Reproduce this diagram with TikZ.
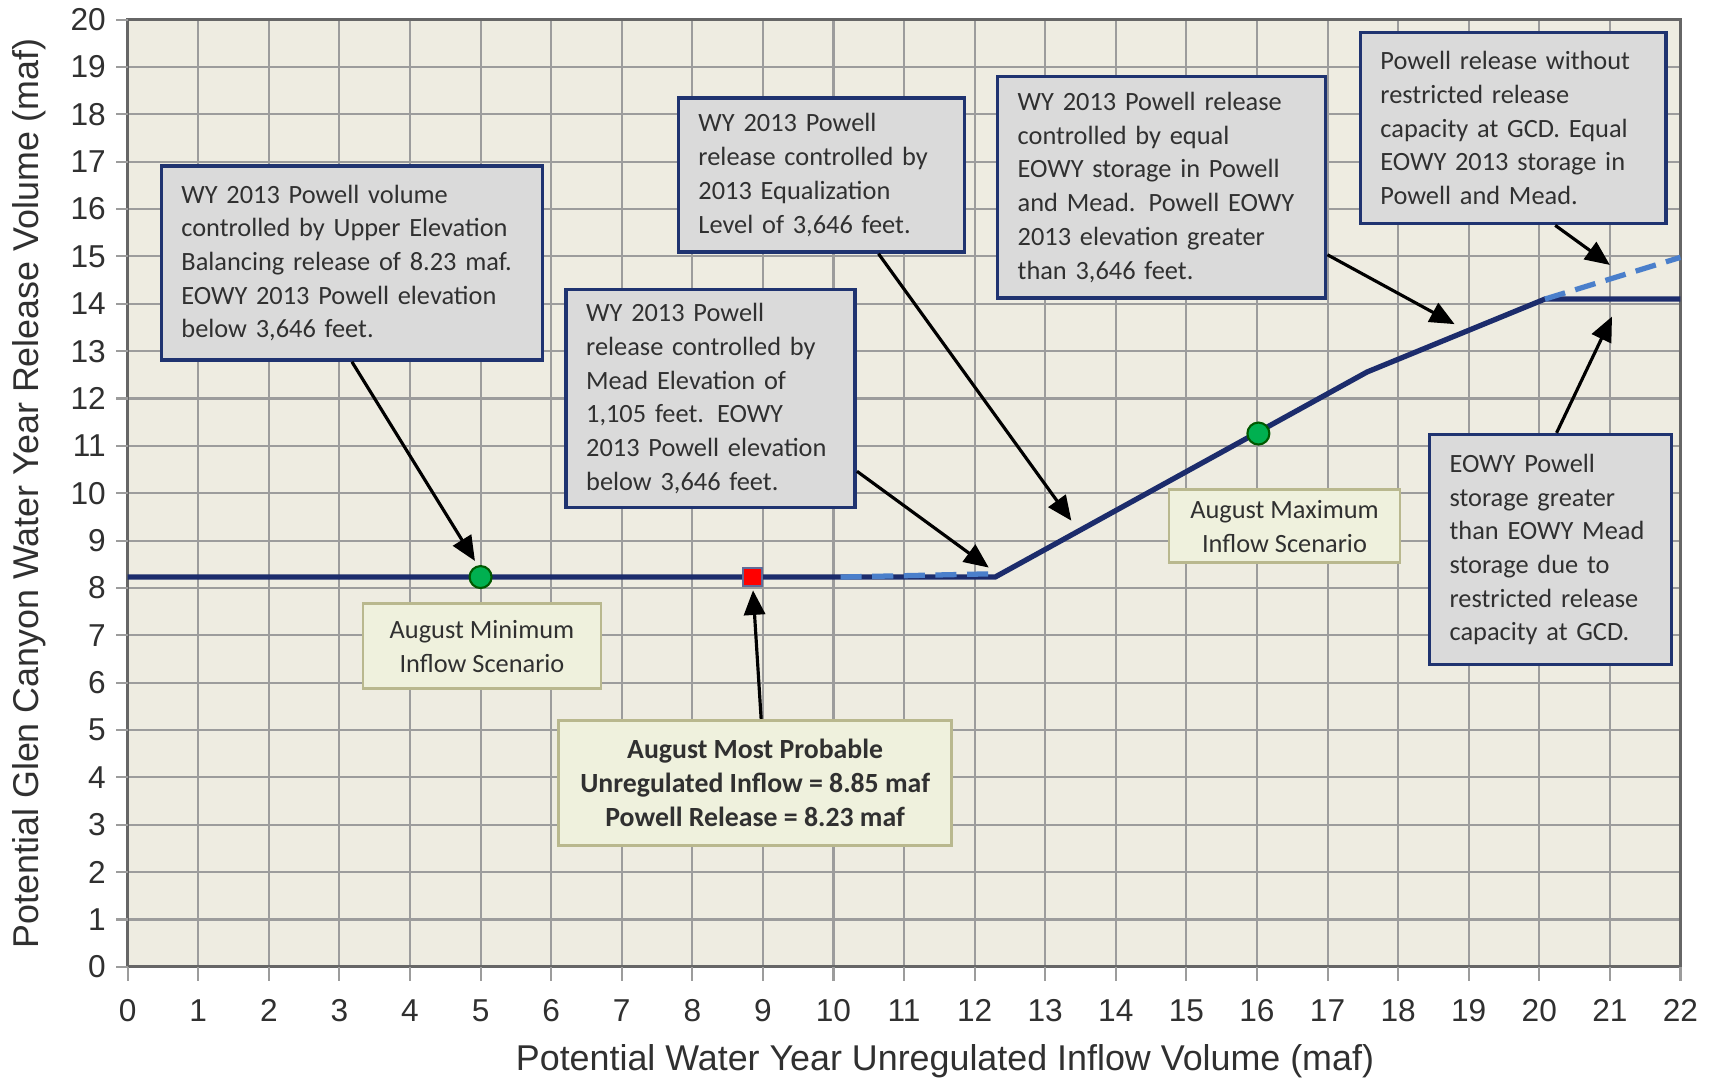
\documentclass[tikz,border=0pt]{standalone}
\usepackage{fontspec}
\setmainfont{Carlito}
\newfontfamily\axisfont{Liberation Sans}
\usetikzlibrary{arrows.meta}

\definecolor{plotbg}{HTML}{EEECE1}
\definecolor{gridgray}{HTML}{9C9C9C}
\definecolor{navyline}{HTML}{1C2C6C}
\definecolor{dashblue}{HTML}{4A7FCB}
\definecolor{notegrey}{HTML}{DADADA}
\definecolor{noteborder}{HTML}{1F3370}
\definecolor{tagfill}{HTML}{EFF1DD}
\definecolor{tagborder}{HTML}{B9B88E}
\definecolor{textgrey}{HTML}{303030}
\definecolor{dotgreen}{HTML}{00B050}

\tikzset{
  note/.style={draw=noteborder, fill=notegrey, line width=1pt, text=textgrey,
    align=left, inner xsep=0.2cm, inner ysep=0pt, font=\fontsize{7.5}{9.6}\selectfont},
  tag/.style={draw=tagborder, fill=tagfill, line width=0.8pt, text=textgrey,
    align=center, inner sep=0pt, font=\fontsize{7.5}{9.6}\selectfont},
  pointer/.style={-{Triangle[length=7pt,width=6pt]}, line width=0.9pt, black},
  release/.style={navyline, line width=1.5pt},
  altline/.style={dashblue, line width=1.5pt, dash pattern=on 6pt off 3pt},
}

\begin{document}
\begin{tikzpicture}[x=0.7058cm, y=0.4736cm]
    \useasboundingbox (-1.809,-2.432) rectangle (22.433,20.414);
    \fill[white] (-1.809,-2.432) rectangle (22.433,20.414);

    % plot area and grid
    \fill[plotbg] (0,0) rectangle (22,20);
    \foreach \i in {1,...,21} \draw[gridgray, line width=0.6pt] (\i,0) -- (\i,20);
    \foreach \j in {1,...,19} \draw[gridgray, line width=0.6pt] (0,\j) -- (22,\j);
    \draw[gray!80!black, line width=0.8pt] (0,0) rectangle (22,20);
    \foreach \i in {0,...,22} {
        \draw[gridgray, line width=0.6pt] (\i,0) -- (\i,-0.3);
        \node[font=\axisfont\fontsize{9}{10}\selectfont, text=textgrey] at (\i,-0.92) {\i};
    }
    \foreach \j in {0,...,20} {
        \draw[gridgray, line width=0.6pt] (0,\j) -- (-0.17,\j);
        \node[left, font=\axisfont\fontsize{9}{10}\selectfont, text=textgrey, inner xsep=0pt] at (-0.3,\j) {\j};
    }
    \node[font=\axisfont\fontsize{10.2}{12}\selectfont, text=textgrey] (xtitle) at (11.58,-2.0) {Potential Water Year Unregulated Inflow Volume (maf)};
    \node[rotate=90, font=\axisfont\fontsize{10.2}{12}\selectfont, text=textgrey] (ytitle) at (-1.39,10.0) {Potential Glen Canyon Water Year Release Volume (maf)};

    % release curve
    \draw[release] (0,8.23) -- (12.29,8.23) -- (17.56,12.56) -- (20.08,14.10) -- (22,14.10);
    \draw[altline] (10.1,8.23) -- (12.29,8.30);
    \draw[altline] (20.08,14.10) -- (22,14.98);

    % notes
    \node[note, minimum width=3.81cm, minimum height=1.94cm, text width=3.41cm] (upperbal) at (3.177,14.86)
        {WY 2013 Powell volume\\ controlled by Upper Elevation\\ Balancing release of 8.23 maf.\\ EOWY 2013 Powell elevation\\ below 3,646 feet.};
    \node[note, minimum width=2.89cm, minimum height=2.18cm, text width=2.49cm] (meadelev) at (8.26,12.0)
        {WY 2013 Powell\\ release controlled by\\ Mead Elevation of\\ 1,105 feet. EOWY\\ 2013 Powell elevation\\ below 3,646 feet.};
    \node[note, minimum width=2.86cm, minimum height=1.54cm, text width=2.46cm] (equallevel) at (9.83,16.72)
        {WY 2013 Powell\\ release controlled by\\ 2013 Equalization\\ Level of 3,646 feet.};
    \node[note, minimum width=3.28cm, minimum height=2.215cm, text width=2.88cm] (equalstore) at (14.65,16.46)
        {WY 2013 Powell release\\ controlled by equal\\ EOWY storage in Powell\\ and Mead. Powell EOWY\\ 2013 elevation greater\\ than 3,646 feet.};
    \node[note, minimum width=3.055cm, minimum height=1.91cm, text width=2.655cm] (norestrict) at (19.63,17.71)
        {Powell release without\\ restricted release\\ capacity at GCD. Equal\\ EOWY 2013 storage in\\ Powell and Mead.};
    \node[note, minimum width=2.42cm, minimum height=2.30cm, text width=2.02cm] (restrict) at (20.16,8.81)
        {EOWY Powell\\ storage greater\\ than EOWY Mead\\ storage due to\\ restricted release\\ capacity at GCD.};

    % scenario tags
    \node[tag, minimum width=2.38cm, minimum height=0.85cm] (mintag) at (5.02,6.77) {August Minimum\\ Inflow Scenario};
    \node[tag, minimum width=2.31cm, minimum height=0.73cm] (maxtag) at (16.39,9.30) {August Maximum\\ Inflow Scenario};
    \node[tag, minimum width=3.93cm, minimum height=1.255cm, font=\fontsize{7.9}{9.6}\selectfont\bfseries] (probtag) at (8.89,3.88)
        {August Most Probable\\ Unregulated Inflow = 8.85 maf\\ Powell Release = 8.23 maf};

    % arrow targets
    \coordinate (tmin) at (4.92,8.57);
    \coordinate (tmead) at (12.2,8.43);
    \coordinate (tequal) at (13.37,9.42);
    \coordinate (tstore) at (18.8,13.57);
    \coordinate (tfree) at (21.0,14.82);
    \coordinate (tcap) at (21.03,13.73);
    \coordinate (tprob) at (8.86,7.95);

    \draw[pointer] (upperbal.south) -- (tmin);
    \draw[pointer] ([yshift=0.38cm]meadelev.south east) -- (tmead);
    \draw[pointer] ([xshift=0.57cm]equallevel.south) -- (tequal);
    \draw[pointer] ([yshift=0.45cm]equalstore.south east) -- (tstore);
    \draw[pointer] ([xshift=0.42cm]norestrict.south) -- (tfree);
    \draw[pointer] ([xshift=0.06cm]restrict.north) -- (tcap);
    \draw[pointer] ([xshift=0.06cm]probtag.north) -- (tprob);

    % scenario points
    \node[circle, fill=dotgreen, draw=green!35!black, line width=0.6pt, minimum size=0.22cm, inner sep=0pt] (minpt) at (5,8.23) {};
    \node[circle, fill=dotgreen, draw=green!35!black, line width=0.6pt, minimum size=0.22cm, inner sep=0pt] (maxpt) at (16.02,11.26) {};
    \node[rectangle, fill=red, draw=navyline!70, line width=0.6pt, minimum size=0.185cm, inner sep=0pt] (probpt) at (8.85,8.23) {};
\end{tikzpicture}
\end{document}
